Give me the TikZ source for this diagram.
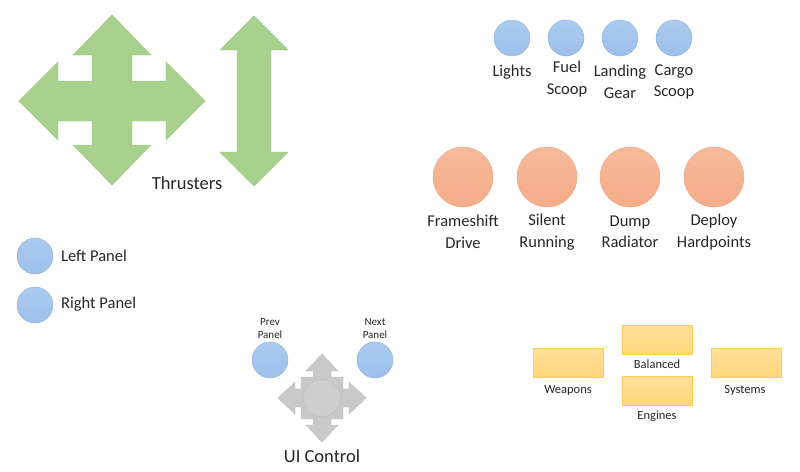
\documentclass[tikz,border=0pt]{standalone}
\usepackage{fontspec}
\setmainfont{Carlito}
\usetikzlibrary{positioning}
\definecolor{btnblue}{HTML}{9DC0E9}
\definecolor{btnbluetop}{HTML}{ABCBF0}
\definecolor{btnblueedge}{HTML}{8EAEDC}
\definecolor{btnorange}{HTML}{F4AC88}
\definecolor{btnorangetop}{HTML}{F6BA9C}
\definecolor{btnorangeedge}{HTML}{F1A27C}
\definecolor{thrustgreen}{HTML}{A9D18E}
\definecolor{thrustgreenedge}{HTML}{9CC77F}
\definecolor{pipyellow}{HTML}{FFD67A}
\definecolor{pipyellowtop}{HTML}{FFE09A}
\definecolor{pipyellowedge}{HTML}{FFCB55}
\definecolor{stickgrey}{HTML}{C9C9C9}
\definecolor{stickedge}{HTML}{BDBDBD}
\definecolor{labeltext}{HTML}{262626}
\tikzset{
  smallbtn/.style={circle, draw=btnblueedge, top color=btnbluetop, bottom color=btnblue, minimum size=36pt, inner sep=0pt},
  bigbtn/.style={circle, draw=btnorangeedge, top color=btnorangetop, bottom color=btnorange, minimum size=60pt, inner sep=0pt},
  pipbox/.style={rectangle, draw=pipyellowedge, top color=pipyellowtop, bottom color=pipyellow, minimum width=70pt, minimum height=29pt, inner sep=0pt},
  biglbl/.style={text=labeltext, inner sep=0pt, font=\fontsize{18.5}{22}\selectfont},
  btnlbl/.style={text=labeltext, inner sep=0pt, align=center, font=\fontsize{16.5}{21.5}\selectfont},
  piplbl/.style={text=labeltext, inner sep=0pt, font=\fontsize{12.5}{15}\selectfont},
  tinylbl/.style={text=labeltext, inner sep=0pt, align=center, font=\fontsize{11}{13}\selectfont},
}
\begin{document}
\begin{tikzpicture}[x=1pt, y=-1pt]
\useasboundingbox (0,0) rectangle (800,471);
% thrusters
\path[fill=thrustgreen, draw=thrustgreenedge] (112,15) -- (151,55) -- (132,55) -- (132,81) -- (166,81) -- (166,62)
  -- (205,101) -- (166,140) -- (166,121) -- (132,121) -- (132,145) -- (151,145) -- (112,185)
  -- (73,145) -- (92,145) -- (92,121) -- (58,121) -- (58,140) -- (19,101) -- (58,62) -- (58,81)
  -- (92,81) -- (92,55) -- (73,55) -- cycle;
\path[fill=thrustgreen, draw=thrustgreenedge] (254,16) -- (288,50) -- (271,50) -- (271,152) -- (288,152)
  -- (254,186) -- (220,152) -- (237,152) -- (237,50) -- (220,50) -- cycle;
\node[biglbl] (thrusters) at (187,183) {Thrusters};
% top row
\node[smallbtn] (lights) at (512,38) {};
\node[smallbtn] (fuel) at (566,38) {};
\node[smallbtn] (gear) at (620,38) {};
\node[smallbtn] (cargo) at (674,38) {};
\node[btnlbl] (lightslbl) at (512,72) {Lights};
\node[btnlbl] (fuellbl) at (567,79) {Fuel\\Scoop};
\node[btnlbl] (gearlbl) at (620,82) {Landing\\Gear};
\node[btnlbl] (cargolbl) at (674,82) {Cargo\\Scoop};
% big row
\node[bigbtn] (fsd) at (463,177) {};
\node[bigbtn] (silent) at (547,177) {};
\node[bigbtn] (heatsink) at (630,177) {};
\node[bigbtn] (hardpoints) at (714,177) {};
\node[btnlbl] (fsdlbl) at (463,232) {Frameshift\\Drive};
\node[btnlbl] (silentlbl) at (547,232) {Silent\\Running};
\node[btnlbl] (heatsinklbl) at (630,232) {Dump\\Radiator};
\node[btnlbl] (hardpointslbl) at (714,232) {Deploy\\Hardpoints};
% panels
\node[smallbtn] (leftp) at (35,256) {};
\node[smallbtn] (rightp) at (35,305) {};
\node[btnlbl, anchor=west] (leftplbl) at (61,256) {Left Panel};
\node[btnlbl, anchor=west] (rightplbl) at (61,304) {Right Panel};
% ui control
\node[smallbtn] (prevp) at (270,360) {};
\node[smallbtn] (nextp) at (375,360) {};
\node[tinylbl] (prevplbl) at (270,329) {Prev\\Panel};
\node[tinylbl] (nextplbl) at (375,329) {Next\\Panel};
\path[fill=stickgrey, draw=stickedge] (322,354) -- (338,371) -- (331,371) -- (331,377) -- (343,377) -- (343,389)
  -- (349,389) -- (349,382) -- (366,398) -- (349,414) -- (349,407) -- (343,407) -- (343,419)
  -- (331,419) -- (331,425) -- (338,425) -- (322,442) -- (306,425) -- (313,425) -- (313,419)
  -- (301,419) -- (301,407) -- (295,407) -- (295,414) -- (278,398) -- (295,382) -- (295,389)
  -- (301,389) -- (301,377) -- (313,377) -- (313,371) -- (306,371) -- cycle;
\node[circle, draw=stickedge, fill=stickgrey!90!white, minimum size=37pt, inner sep=0pt] (stick) at (322,398) {};
\node[biglbl] (uictl) at (322,456) {UI Control};
% pips
\node[pipbox] (sys) at (746,363) {};
\node[pipbox] (bal) at (657,340) {};
\node[pipbox] (eng) at (657,391) {};
\node[pipbox] (wep) at (568,363) {};
\node[piplbl] (weplbl) at (568,390) {Weapons};
\node[piplbl] (ballbl) at (657,364) {Balanced};
\node[piplbl] (englbl) at (657,416) {Engines};
\node[piplbl] (syslbl) at (745,390) {Systems};
\end{tikzpicture}
\end{document}
